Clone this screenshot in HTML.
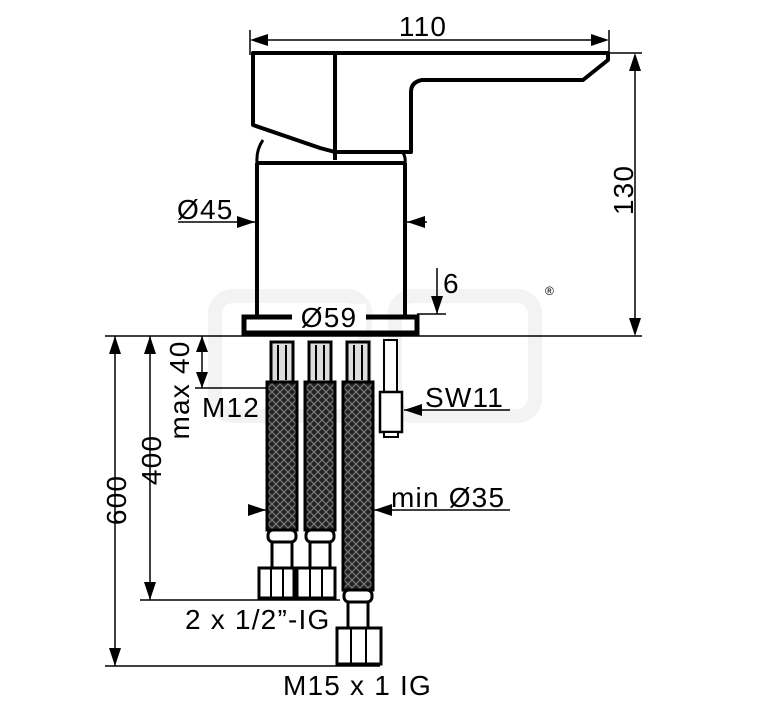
<!DOCTYPE html>
<html><head><style>
html,body{margin:0;padding:0;background:#fff;}
svg{display:block;}
text{font-family:"Liberation Sans",sans-serif;fill:#000;font-size:28px;letter-spacing:1.2px;}
</style></head><body>
<svg width="767" height="709" viewBox="0 0 767 709" xmlns="http://www.w3.org/2000/svg">
<defs>
<pattern id="br" width="8" height="8" patternUnits="userSpaceOnUse">
<rect width="8" height="8" fill="#222"/>
<path d="M0 0L8 8M8 0L0 8" stroke="#777" stroke-width="1.3"/>
</pattern>
<marker id="a" markerWidth="18" markerHeight="12" refX="18" refY="6" orient="auto" markerUnits="userSpaceOnUse">
<path d="M0 0L18 6L0 12Z" fill="#000"/></marker>
</defs>
<g fill="none" stroke="#f3f3f3" stroke-width="14">
<rect x="215" y="296" width="150" height="120" rx="18"/>
<rect x="395" y="296" width="140" height="120" rx="18"/>
</g>
<g stroke="#000" fill="none">
<line x1="250" y1="30" x2="250" y2="55" stroke-width="1.5"/>
<line x1="609" y1="30" x2="609" y2="55" stroke-width="1.5"/>
<line x1="264" y1="40" x2="595" y2="40" stroke-width="1.5"/>
<path d="M250 40L268 34L268 46Z M609 40L591 34L591 46Z" fill="#000" stroke="none"/>
<path d="M253 53L608 53L608 60L583 80L422 80Q411 82 411 92L411 152L335 152L320 148L253 125Z" stroke-width="4" stroke-linejoin="round"/>
<line x1="335" y1="53" x2="335" y2="160" stroke-width="4"/>
<path d="M263 140Q256 150 257 163M402 152Q406 156 405 163" stroke-width="3"/>
<line x1="257" y1="163" x2="405" y2="163" stroke-width="4"/>
<line x1="257" y1="163" x2="257" y2="316" stroke-width="4"/>
<line x1="405" y1="163" x2="405" y2="316" stroke-width="4"/>
<rect x="244" y="317" width="173" height="16" stroke-width="5"/>
<line x1="105" y1="336" x2="642" y2="336" stroke-width="1.5"/>
<line x1="608" y1="53" x2="642" y2="53" stroke-width="1.5"/>
<line x1="635" y1="70" x2="635" y2="320" stroke-width="1.5"/>
<path d="M635 53L629 71L641 71Z M635 336L629 318L641 318Z" fill="#000" stroke="none"/>
<line x1="178" y1="222" x2="255" y2="222" stroke-width="1.5" marker-end="url(#a)"/>
<line x1="427" y1="222" x2="407" y2="222" stroke-width="1.5" marker-end="url(#a)"/>
<line x1="437" y1="268" x2="437" y2="314" stroke-width="1.5" marker-end="url(#a)"/>
<line x1="417" y1="314" x2="446" y2="314" stroke-width="1.5"/>
<line x1="115" y1="336" x2="115" y2="666" stroke-width="1.5"/>
<path d="M115 336L109 354L121 354Z M115 666L109 648L121 648Z" fill="#000" stroke="none"/>
<line x1="150" y1="336" x2="150" y2="600" stroke-width="1.5"/>
<path d="M150 336L144 354L156 354Z M150 600L144 582L156 582Z" fill="#000" stroke="none"/>
<line x1="202" y1="336" x2="202" y2="388" stroke-width="1.5"/>
<path d="M202 336L196 352L208 352Z M202 388L196 372L208 372Z" fill="#000" stroke="none"/>
<line x1="195" y1="388" x2="268" y2="388" stroke-width="1.5"/>
<line x1="140" y1="600" x2="340" y2="600" stroke-width="1.5"/>
<line x1="105" y1="666" x2="380" y2="666" stroke-width="1.5"/>
<line x1="510" y1="410" x2="404" y2="410" stroke-width="1.5" marker-end="url(#a)"/>
<line x1="510" y1="510" x2="374" y2="510" stroke-width="1.5" marker-end="url(#a)"/>
<line x1="248" y1="510" x2="266" y2="510" stroke-width="1.5" marker-end="url(#a)"/>
</g>
<g stroke="#000" stroke-width="3">
<g>
<rect x="271" y="342" width="22" height="40" fill="#ddd"/>
<line x1="278" y1="345" x2="278" y2="380" stroke-width="2"/><line x1="286" y1="345" x2="286" y2="380" stroke-width="2"/>
<rect x="267" y="382" width="30" height="148" fill="url(#br)"/>
</g>
<g transform="translate(38 0)">
<rect x="271" y="342" width="22" height="40" fill="#ddd"/>
<line x1="278" y1="345" x2="278" y2="380" stroke-width="2"/><line x1="286" y1="345" x2="286" y2="380" stroke-width="2"/>
<rect x="267" y="382" width="30" height="148" fill="url(#br)"/>
</g>
<g transform="translate(76 0)">
<rect x="271" y="342" width="22" height="40" fill="#ddd"/>
<line x1="278" y1="345" x2="278" y2="380" stroke-width="2"/><line x1="286" y1="345" x2="286" y2="380" stroke-width="2"/>
<rect x="267" y="382" width="30" height="208" fill="url(#br)"/>
</g>
<g fill="#fff">
<rect x="268" y="530" width="28" height="12" rx="5"/>
<rect x="272" y="542" width="20" height="26"/>
<rect x="259" y="568" width="35" height="30"/>
<line x1="271" y1="568" x2="271" y2="598" stroke-width="2"/><line x1="283" y1="568" x2="283" y2="598" stroke-width="2"/>
<rect x="306" y="530" width="28" height="12" rx="5"/>
<rect x="310" y="542" width="20" height="26"/>
<rect x="297" y="568" width="38" height="30"/>
<line x1="310" y1="568" x2="310" y2="598" stroke-width="2"/><line x1="322" y1="568" x2="322" y2="598" stroke-width="2"/>
<rect x="344" y="590" width="28" height="12" rx="5"/>
<rect x="348" y="602" width="20" height="26"/>
<rect x="337" y="628" width="44" height="36"/>
<line x1="351" y1="628" x2="351" y2="664" stroke-width="2"/><line x1="366" y1="628" x2="366" y2="664" stroke-width="2"/>
<rect x="384" y="340" width="13" height="52" stroke-width="2"/>
<rect x="380" y="392" width="22" height="40" stroke-width="2.5"/>
<rect x="384" y="432" width="14" height="5" stroke-width="2"/>
</g>
</g>
<rect x="292" y="304" width="74" height="26" fill="#fff"/>
<text x="329" y="327" text-anchor="middle">Ø59</text>
<text x="423" y="36" text-anchor="middle">110</text>
<text x="177" y="219">Ø45</text>
<text x="443" y="293">6</text>
<text text-anchor="middle" transform="translate(633 190) rotate(-90)">130</text>
<text text-anchor="middle" transform="translate(126 500) rotate(-90)">600</text>
<text text-anchor="middle" transform="translate(161 460) rotate(-90)">400</text>
<text text-anchor="middle" transform="translate(189 390) rotate(-90)">max 40</text>
<text x="202" y="417">M12</text>
<text x="425" y="407">SW11</text>
<text x="391" y="507">min Ø35</text>
<text x="185" y="629">2 x 1/2”-IG</text>
<text x="283" y="695">M15 x 1 IG</text>
<text x="545" y="295" style="font-size:12px" fill="#ddd">®</text>
</svg>
</body></html>
